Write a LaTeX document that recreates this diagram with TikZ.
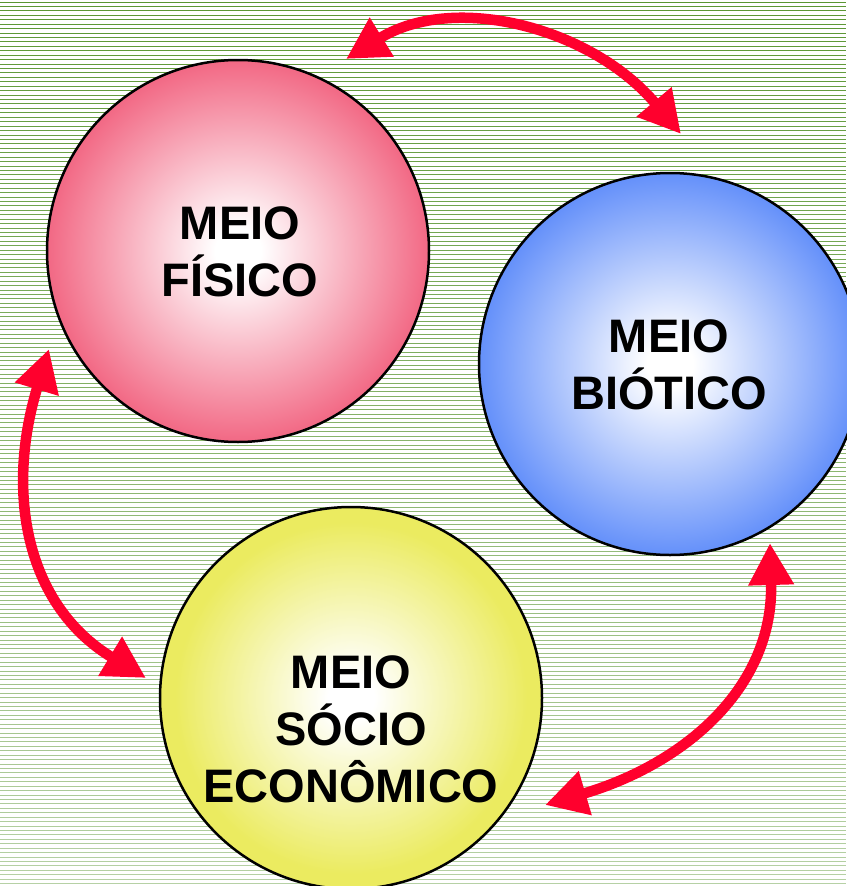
\documentclass[tikz,border=0pt]{standalone}
\usepackage{fontspec}
\setmainfont{Liberation Sans}
\usetikzlibrary{arrows.meta}
\def\mylinegap{4.43}
\definecolor{bgline}{RGB}{90,150,50}
\definecolor{arrowred}{RGB}{255,0,45}
\definecolor{fisicocol}{RGB}{242,104,132}
\definecolor{bioticocol}{RGB}{100,144,250}
\definecolor{sociocol}{RGB}{235,235,96}
\pgfdeclareradialshading{fisico shade}{\pgfpointorigin}{color(0bp)=(white); color(3bp)=(white); color(25bp)=(fisicocol); color(50bp)=(fisicocol)}
\pgfdeclareradialshading{biotico shade}{\pgfpointorigin}{color(0bp)=(white); color(3bp)=(white); color(25bp)=(bioticocol); color(50bp)=(bioticocol)}
\pgfdeclareradialshading{socio shade}{\pgfpointorigin}{color(0bp)=(white); color(3bp)=(white); color(23bp)=(sociocol); color(50bp)=(sociocol)}
\tikzset{
>={Triangle[length=42pt,width=43pt]}, % All arrows with big triangle tips
my stripe/.style={line width=0.8pt},
my circle/.style={draw,circle,shade,line width=2.5pt,minimum size=382pt,inner sep=0pt},
my label/.style={align=center,anchor=base,font=\fontsize{47}{57}\selectfont\bfseries},
my arrow/.style={<->,draw=arrowred,line width=10.5pt}
}
\begin{document}
\begin{tikzpicture}[x=1pt,y=-1pt]
\useasboundingbox (0,0) rectangle (846,886);
\fill[white] (0,0) rectangle (846,886);
\foreach \i in {0,...,199}{
  \pgfmathsetmacro\myy{2+\i*\mylinegap}
  \pgfmathtruncatemacro\mymix{100-\i/3.6}
  \draw[my stripe,bgline!\mymix!white] (0,\myy) -- (846,\myy);
}
\node[my circle,shading=fisico shade] (fisico) at (238,251) {};
\node[my circle,shading=biotico shade] (biotico) at (670,364) {};
\node[my circle,shading=socio shade] (socio) at (351,698) {};
% text sits on the baseline of its last line
\node[my label] (fisico text) at (240,296) {MEIO\\FÍSICO};
\node[my label] (biotico text) at (669,409) {MEIO\\BIÓTICO};
\node[my label] (socio text) at (351,802) {MEIO\\SÓCIO\\ECONÔMICO};
% arrow tips
\coordinate (fb a) at (346,59);
\coordinate (fb b) at (681,134);
\coordinate (fs a) at (49,349);
\coordinate (fs b) at (146,678);
\coordinate (bs a) at (770,543);
\coordinate (bs b) at (545,805);
\draw[my arrow] (fb a) .. controls (455,-8) and (592,28) .. (fb b);
\draw[my arrow] (fs a) .. controls (6,490) and (24,604) .. (fs b);
\draw[my arrow] (bs a) .. controls (774,688) and (684,764) .. (bs b);
\end{tikzpicture}
\end{document}
